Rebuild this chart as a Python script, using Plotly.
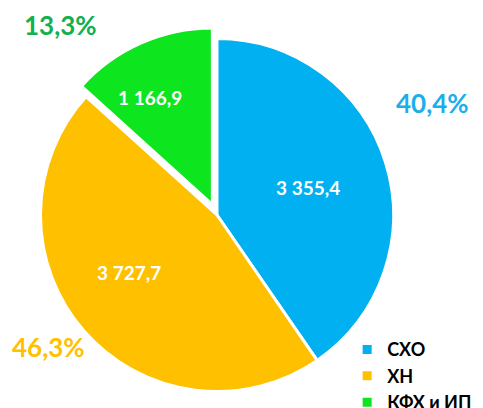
import plotly.graph_objects as go

categories = ["СХО", "ХН", "КФХ и ИП"]
values = [3355.4, 3727.7, 1166.9]
value_labels = ["3 355,4", "3 727,7", "1 166,9"]
shares = [40.4, 46.3, 13.3]
share_labels = ["40,4%", "46,3%", "13,3%"]

colors = ["#00B0F0", "#FFC000", "#0DE51F"]
share_colors = ["#1AAFEA", "#FFC000", "#12B04E"]

# page has an 8px body margin; the figure is sized to fill the rest of the window
W, H = 475, 400
OFF = 8
cx, cy = 209, 207
s = 188

fig = go.Figure()
fig.add_trace(go.Pie(
    labels=categories,
    values=shares,
    textinfo="none",
    marker=dict(colors=colors, line=dict(color="white", width=3)),
    pull=[0, 0, 0.065],
    sort=False,
    direction="clockwise",
    rotation=0,
    hoverinfo="skip",
    domain=dict(x=[(cx - s) / W, (cx + s) / W], y=[(H - cy - s) / H, (H - cy + s) / H]),
))

value_pos = [(308, 188), (129, 272), (150, 98)]
for txt, (px, py) in zip(value_labels, value_pos):
    fig.add_annotation(
        x=(px - OFF) / W, y=1 - (py - OFF) / H, xref="paper", yref="paper",
        text=txt, showarrow=False,
        font=dict(family="Lato", size=19, color="white", weight="bold"),
        xanchor="center", yanchor="middle",
    )

label_pos = [(432, 103), (48, 347), (60, 25)]
for txt, col, (px, py) in zip(share_labels, share_colors, label_pos):
    fig.add_annotation(
        x=(px - OFF) / W, y=1 - (py - OFF) / H, xref="paper", yref="paper",
        text=txt, showarrow=False,
        font=dict(family="Lato", size=26, color=col, weight="bold"),
        xanchor="center", yanchor="middle",
    )

fig.update_layout(
    width=W, height=H,
    margin=dict(l=0, r=0, t=0, b=0, autoexpand=False),
    paper_bgcolor="white", plot_bgcolor="white",
    showlegend=True,
    legend=dict(
        x=0.714, y=-0.033, xanchor="left", yanchor="bottom",
        font=dict(family="Lato", size=18, color="black", weight="bold"),
        tracegroupgap=0, itemwidth=30,
        bgcolor="rgba(0,0,0,0)",
    ),
)

fig.write_html("out.html")
